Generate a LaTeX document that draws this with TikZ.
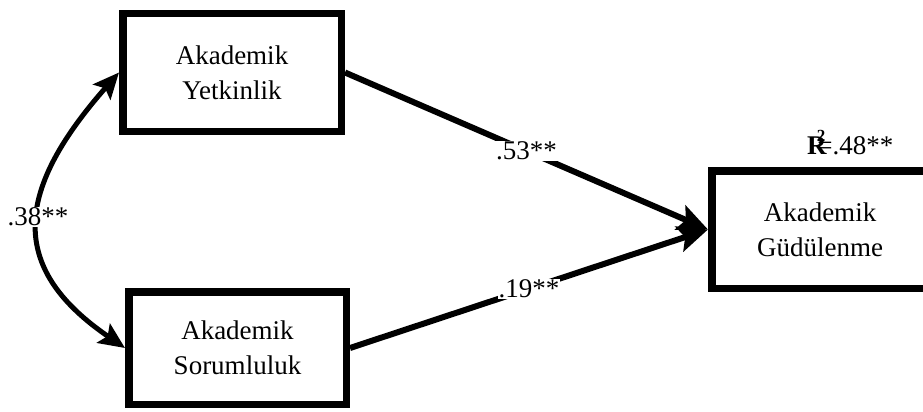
\documentclass[tikz,border=0pt]{standalone}
\usepackage{fontspec}
\setmainfont{Liberation Serif}
\usetikzlibrary{arrows.meta}
\begin{document}
\begin{tikzpicture}[x=1pt,y=-1pt,
  varbox/.style={draw=black, line width=7.5pt, fill=white, align=center,
    font=\fontsize{27}{35}\selectfont, inner sep=0pt},
  conn/.style={line width=6pt, -{Stealth[length=30pt,width=26pt,inset=6pt]}},
  corr/.style={line width=5pt, {Stealth[length=26pt,width=23pt,inset=5pt]}-{Stealth[length=26pt,width=23pt,inset=5pt]}},
  coef/.style={fill=white, inner sep=1pt, font=\fontsize{27}{30}\selectfont}
]
\clip (0,0) rectangle (923,412);
\fill[white] (0,0) rectangle (923,412);
\node[varbox, minimum width=218.5pt, minimum height=117.5pt] (ay) at (232,72.5) {Akademik\\Yetkinlik};
\node[varbox, minimum width=217.5pt, minimum height=112.5pt] (as) at (237.5,348) {Akademik\\Sorumluluk};
\node[varbox, minimum width=216.5pt, minimum height=117.5pt] (ag) at (820,229.5) {Akademik\\Güdülenme};
\draw[conn] (ay.east) -- node[coef] (l53) {.53**} (ag.west);
\draw[conn] (as.east) -- node[coef] (l19) {.19**} (ag.west);
\draw[corr] (ay.west) .. controls +(-108,122.5) and +(-114,-78) .. (as.west);
\node[coef] (l38) at (38,217) {.38**};
\node[anchor=base west, inner sep=0pt, font=\fontsize{27}{30}\selectfont] (r2) at (807,154)
  {\textbf{R}\kern-10pt\raisebox{13pt}{\fontsize{17}{17}\selectfont\textbf{2}}\kern-8pt=.48**};
\end{tikzpicture}
\end{document}
